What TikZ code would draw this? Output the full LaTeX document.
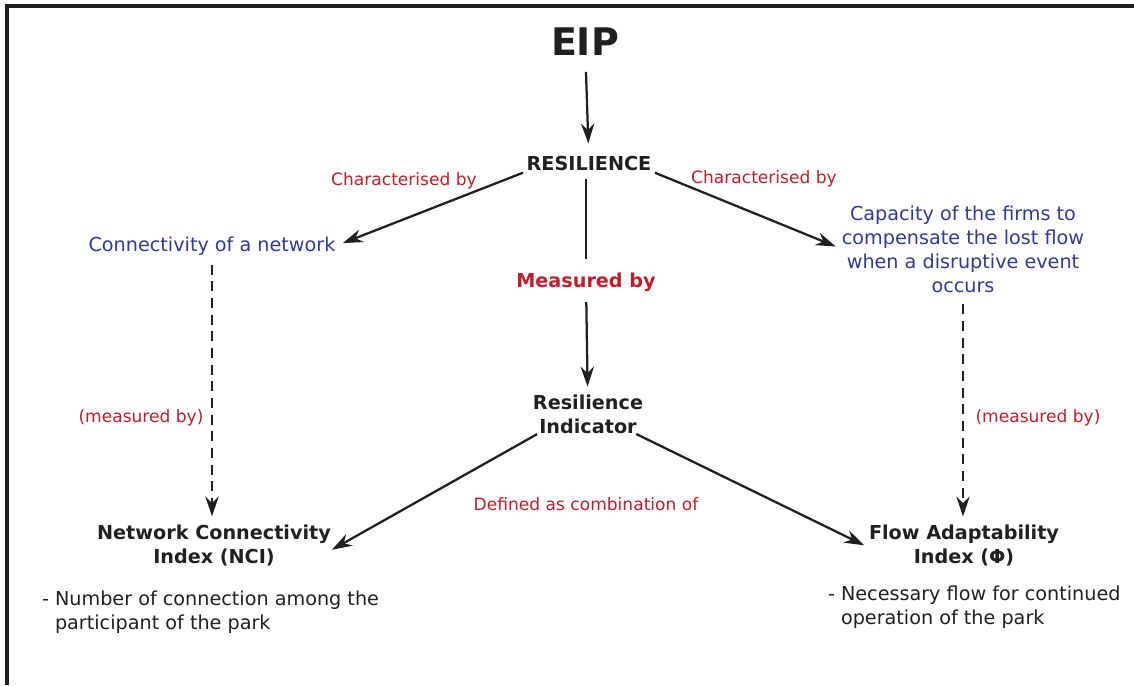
\documentclass[tikz,border=0pt]{standalone}
\usepackage{fontspec}
\setmainfont{DejaVu Sans}
\usetikzlibrary{arrows.meta}
\definecolor{labred}{RGB}{192,30,44}
\definecolor{txtblue}{RGB}{50,58,150}
\definecolor{ink}{RGB}{32,32,32}
\def\bigfont{\fontsize{28.5}{34}\selectfont\bfseries}
\def\mainfont{\fontsize{14.4}{18}\selectfont}
\def\smallfont{\fontsize{12.8}{16}\selectfont}

\begin{document}
\begin{tikzpicture}[x=0.75pt, y=-0.75pt,
		every node/.style={inner sep=0pt, outer sep=0pt, text=ink},
		head/.style={font=\mainfont\bfseries, align=center},
		idea/.style={font=\mainfont, text=txtblue, align=center},
		note/.style={font=\smallfont, text=labred},
		list/.style={font=\mainfont, align=left, anchor=north west},
		link/.style={draw=ink, line width=1.7pt, -{Stealth[length=15pt, width=10pt, inset=5pt]}},
		dlink/.style={link, dash pattern=on 7.5pt off 5pt}]
			%%%%% START %%%%%
			\useasboundingbox (0, 0) rectangle (1134, 685);
			
			\draw[line width=2.4pt, color=ink] (7, 685) -- (7, 6) -- (1134, 6);
			
			\node[font=\bigfont] (eip) at (585, 42) {EIP};
			\node[head] (res) at (589, 164) {RESILIENCE};
			\node[font=\mainfont\bfseries, text=labred] (meas) at (586, 282) {Measured by};
			\node[head] (ind) at (588, 414) {Resilience\\Indicator};
			
			\node[idea] (conn) at (212, 246) {Connectivity of a network};
			\node[idea] (cap) at (963, 249) {Capacity of the firms to\\compensate the lost flow\\when a disruptive event\\occurs};
			
			\node[head] (nci) at (214, 545) {Network Connectivity\\Index (NCI)};
			\node[head] (fai) at (964, 545) {Flow Adaptability\\Index (Φ)};
			
			\node[list] (ncitxt) at (42, 591) {- Number of connection among the\\\phantom{- }participant of the park};
			\node[list] (faitxt) at (828, 586) {- Necessary flow for continued\\\phantom{- }operation of the park};
			
			% labels on the links
			\node[note] (chl) at (404, 181) {Characterised by};
			\node[note] (chr) at (764, 179) {Characterised by};
			\node[note] (mbl) at (141, 418) {(measured by)};
			\node[note] (mbr) at (1038, 418) {(measured by)};
			\node[note] (comb) at (586, 504) {Defined as combination of};
			
			% links
			\draw[link, shorten <=12pt, shorten >=10pt] (eip) -- (res);
			\draw[link, shorten <=3pt, shorten >=6pt] (res.south west) -- (conn.east);
			\draw[link, shorten <=3pt, shorten >=5pt] (res.south east) -- (cap.west);
			\draw[draw=ink, line width=1.7pt, shorten <=6pt, shorten >=10pt] (res.south -| meas.north) -- (meas.north);
			\draw[link, shorten <=8pt, shorten >=6pt] (meas) -- (ind);
			\draw[link, shorten <=1pt, shorten >=1pt] ([xshift=4pt]ind.south west) -- ([yshift=-4pt]nci.east);
			\draw[link, shorten <=1pt, shorten >=4pt] ([xshift=-6pt]ind.south east) -- ([yshift=-2pt]fai.west);
			\draw[dlink, shorten <=7pt, shorten >=6pt] (conn.south) -- (conn.south |- nci.north);
			\draw[dlink, shorten <=9pt, shorten >=6pt] (cap.south) -- (cap.south |- fai.north);
			
			%%%%% END %%%%%
		\end{tikzpicture}
\end{document}
